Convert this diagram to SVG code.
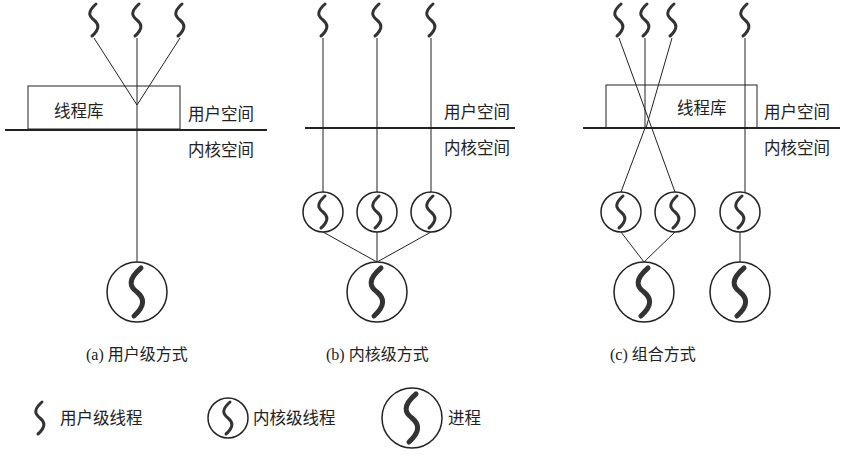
<svg xmlns="http://www.w3.org/2000/svg" xmlns:xlink="http://www.w3.org/1999/xlink" width="845" height="456" viewBox="0 0 845 456">
<style>
.l{stroke:#222;stroke-width:1;fill:none}
.b{stroke:#222;stroke-width:2;fill:none}
.c{stroke:#222;stroke-width:1.5;fill:#fff}
.s{stroke:#333;stroke-width:3;fill:none;stroke-linecap:round}
.sb{stroke:#333;stroke-width:5;fill:none;stroke-linecap:round}
text{font-family:"Noto Sans CJK SC","Liberation Sans",sans-serif;font-size:16.5px;fill:#222}
.cap{font-family:"Liberation Serif","Noto Sans CJK SC",serif;font-size:16px}
</style>
<defs>
<path id="sq" class="s" d="M2,-16 C-7,-8 -5,-4 0,0 C5,4 6,9 -2,16"/>
<path id="sqb" class="sb" d="M4,-24 C-10,-12 -7,-5 0,0 C7,6 9,13 -3,24"/>
</defs>
<g id="connectors">
<path class="l" d="M94,38 L137,105 L180,38 M137,38 V262"/>
<path class="l" d="M323,38 V192 M377,38 V192 M431,38 V192 M323,232 L377,262 M377,232 V262 M431,232 L377,262"/>
<path class="l" d="M619,38 L675,192 M645,38 V128 L621,192 M672,38 L646,128 M745,38 V192 M621,232 L644,262 M675,232 L644,262 M740,232 V262"/>
</g>
<g id="panel-a">
<rect class="l" x="28" y="86" width="152" height="43"/>
<text x="54" y="117">线程库</text>
<line class="b" x1="5" y1="130" x2="267" y2="130"/>
<text x="188" y="120">用户空间</text>
<text x="188" y="156">内核空间</text>
<use xlink:href="#sq" x="94" y="20"/><use xlink:href="#sq" x="137" y="20"/><use xlink:href="#sq" x="180" y="20"/>
<circle class="c" cx="137" cy="292" r="30"/><use xlink:href="#sqb" x="137" y="292"/>
<text class="cap" x="86" y="360">(a) 用户级方式</text>
</g>
<g id="panel-b">
<line class="b" x1="305" y1="128" x2="515" y2="128"/>
<text x="444" y="118">用户空间</text>
<text x="444" y="154">内核空间</text>
<use xlink:href="#sq" x="323" y="20"/><use xlink:href="#sq" x="377" y="20"/><use xlink:href="#sq" x="431" y="20"/>
<circle class="c" cx="323" cy="212" r="20"/><use xlink:href="#sq" x="323" y="212"/>
<circle class="c" cx="377" cy="212" r="20"/><use xlink:href="#sq" x="377" y="212"/>
<circle class="c" cx="431" cy="212" r="20"/><use xlink:href="#sq" x="431" y="212"/>
<circle class="c" cx="377" cy="292" r="30"/><use xlink:href="#sqb" x="377" y="292"/>
<text class="cap" x="326" y="360">(b) 内核级方式</text>
</g>
<g id="panel-c">
<rect class="l" x="606" y="85" width="151" height="43"/>
<text x="677" y="114">线程库</text>
<line class="b" x1="583" y1="128" x2="840" y2="128"/>
<text x="764" y="118">用户空间</text>
<text x="764" y="154">内核空间</text>
<use xlink:href="#sq" x="619" y="20"/><use xlink:href="#sq" x="645" y="20"/><use xlink:href="#sq" x="672" y="20"/><use xlink:href="#sq" x="745" y="20"/>
<circle class="c" cx="621" cy="212" r="20"/><use xlink:href="#sq" x="621" y="212"/>
<circle class="c" cx="675" cy="212" r="20"/><use xlink:href="#sq" x="675" y="212"/>
<circle class="c" cx="740" cy="212" r="20"/><use xlink:href="#sq" x="740" y="212"/>
<circle class="c" cx="644" cy="292" r="30"/><use xlink:href="#sqb" x="644" y="292"/>
<circle class="c" cx="740" cy="292" r="30"/><use xlink:href="#sqb" x="740" y="292"/>
<text class="cap" x="610" y="360">(c) 组合方式</text>
</g>
<g id="legend">
<use xlink:href="#sq" x="40" y="418"/><text x="60" y="424">用户级线程</text>
<circle class="c" cx="228" cy="418" r="20"/><use xlink:href="#sq" x="228" y="418"/><text x="253" y="424">内核级线程</text>
<circle class="c" cx="412" cy="418" r="30"/><use xlink:href="#sqb" x="412" y="418"/><text x="448" y="424">进程</text>
</g>
</svg>
